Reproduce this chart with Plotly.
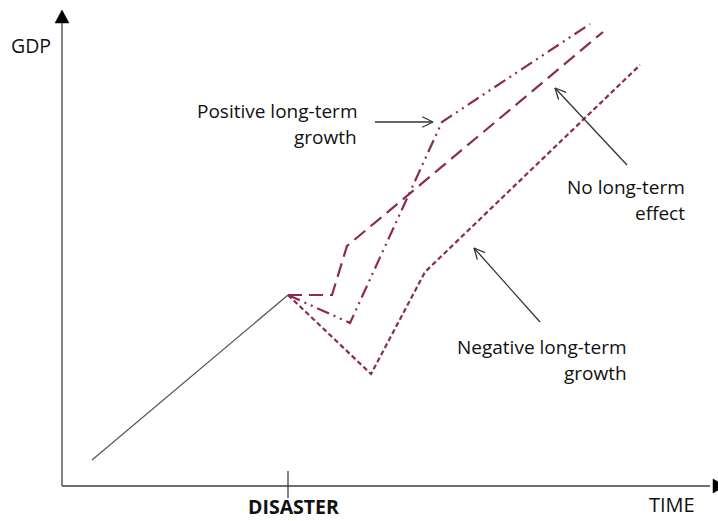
import math
import plotly.graph_objects as go

W, H = 718, 521

# ---- data (time units ~ horizontal position, GDP units ~ vertical level) ----
pre_time = [92, 288]
pre_gdp = [61, 226]

no_effect_time = [288, 332, 347, 603]
no_effect_gdp = [226, 226, 275, 489]

positive_time = [288, 350, 442, 590]
positive_gdp = [226, 198, 399, 497]

negative_time = [288, 371, 425, 640]
negative_gdp = [226, 147, 249, 456]

disaster_time = 288

LINE = "#8B2A55"
AX = "#404040"
FONT = "Open Sans, Noto Sans, sans-serif"
TXT = "#111111"

fig = go.Figure()

fig.add_trace(go.Scatter(x=pre_time, y=pre_gdp, mode="lines",
                         line=dict(color="#555555", width=1.2), hoverinfo="skip"))
fig.add_trace(go.Scatter(x=no_effect_time, y=no_effect_gdp, mode="lines",
                         line=dict(color=LINE, width=2.2, dash="14px,7px"), hoverinfo="skip"))
fig.add_trace(go.Scatter(x=positive_time, y=positive_gdp, mode="lines",
                         line=dict(color=LINE, width=2.2, dash="13px,5px,2px,5px,2px,5px"), hoverinfo="skip"))
fig.add_trace(go.Scatter(x=negative_time, y=negative_gdp, mode="lines",
                         line=dict(color=LINE, width=2.2, dash="5px,3px"), hoverinfo="skip"))

# axes origin
ox, oy = 62, 35
shapes = [
    dict(type="line", x0=ox, y0=oy, x1=ox, y1=500, line=dict(color=AX, width=1.3)),
    dict(type="line", x0=ox, y0=oy, x1=710, y1=oy, line=dict(color=AX, width=1.3)),
    dict(type="line", x0=disaster_time, y0=23, x1=disaster_time, y1=50,
         line=dict(color=AX, width=1.3)),
    # filled arrow heads on axes
    dict(type="path", path=f"M {ox-7} 498 L {ox+7} 498 L {ox} 511 Z",
         fillcolor="#000000", line=dict(color="#000000", width=0.5)),
    dict(type="path", path=f"M 713 {oy+7} L 713 {oy-7} L 726 {oy} Z",
         fillcolor="#000000", line=dict(color="#000000", width=0.5)),
]


def callout(x0, y0, x1, y1):
    """line from (x0,y0) to (x1,y1) with an open chevron head at (x1,y1)"""
    out = [dict(type="line", x0=x0, y0=y0, x1=x1, y1=y1, line=dict(color="#333333", width=1.3))]
    ang = math.atan2(y0 - y1, x0 - x1)
    for d in (0.45, -0.45):
        out.append(dict(type="line", x0=x1, y0=y1,
                        x1=x1 + 12 * math.cos(ang + d), y1=y1 + 12 * math.sin(ang + d),
                        line=dict(color="#333333", width=1.3)))
    return out


shapes += callout(375, 399, 433, 399)
shapes += callout(627, 356, 555, 433)
shapes += callout(540, 199, 474, 273)


def txt(x, y, s, xanchor="center", size=19, bold=False, yanchor="middle"):
    return dict(x=x, y=y, text=f"<b>{s}</b>" if bold else s, showarrow=False,
                xanchor=xanchor, yanchor=yanchor, borderpad=0,
                font=dict(size=size, color=TXT, family=FONT))


ann = [
    txt(31, 476, "GDP", size=19.5),
    txt(672, 17, "TIME", size=20),
    txt(293, 0, "DISASTER", size=19.5, bold=True, yanchor="bottom"),
    txt(358, 410, "Positive long-term", xanchor="right"),
    txt(358, 384, "growth", xanchor="right"),
    txt(686, 334, "No long-term", xanchor="right"),
    txt(686, 308, "effect", xanchor="right"),
    txt(628, 174, "Negative long-term", xanchor="right"),
    txt(628, 148, "growth", xanchor="right"),
]

fig.update_layout(
    width=W, height=H, margin=dict(l=0, r=0, t=0, b=0),
    paper_bgcolor="white", plot_bgcolor="white", showlegend=False,
    xaxis=dict(range=[0, W], visible=False, fixedrange=True),
    yaxis=dict(range=[0, H], visible=False, fixedrange=True),
    shapes=shapes, annotations=ann,
)

fig.write_html("out.html", config={"displayModeBar": False},
               post_script="document.body.style.margin='0';document.body.style.overflow='hidden';")
